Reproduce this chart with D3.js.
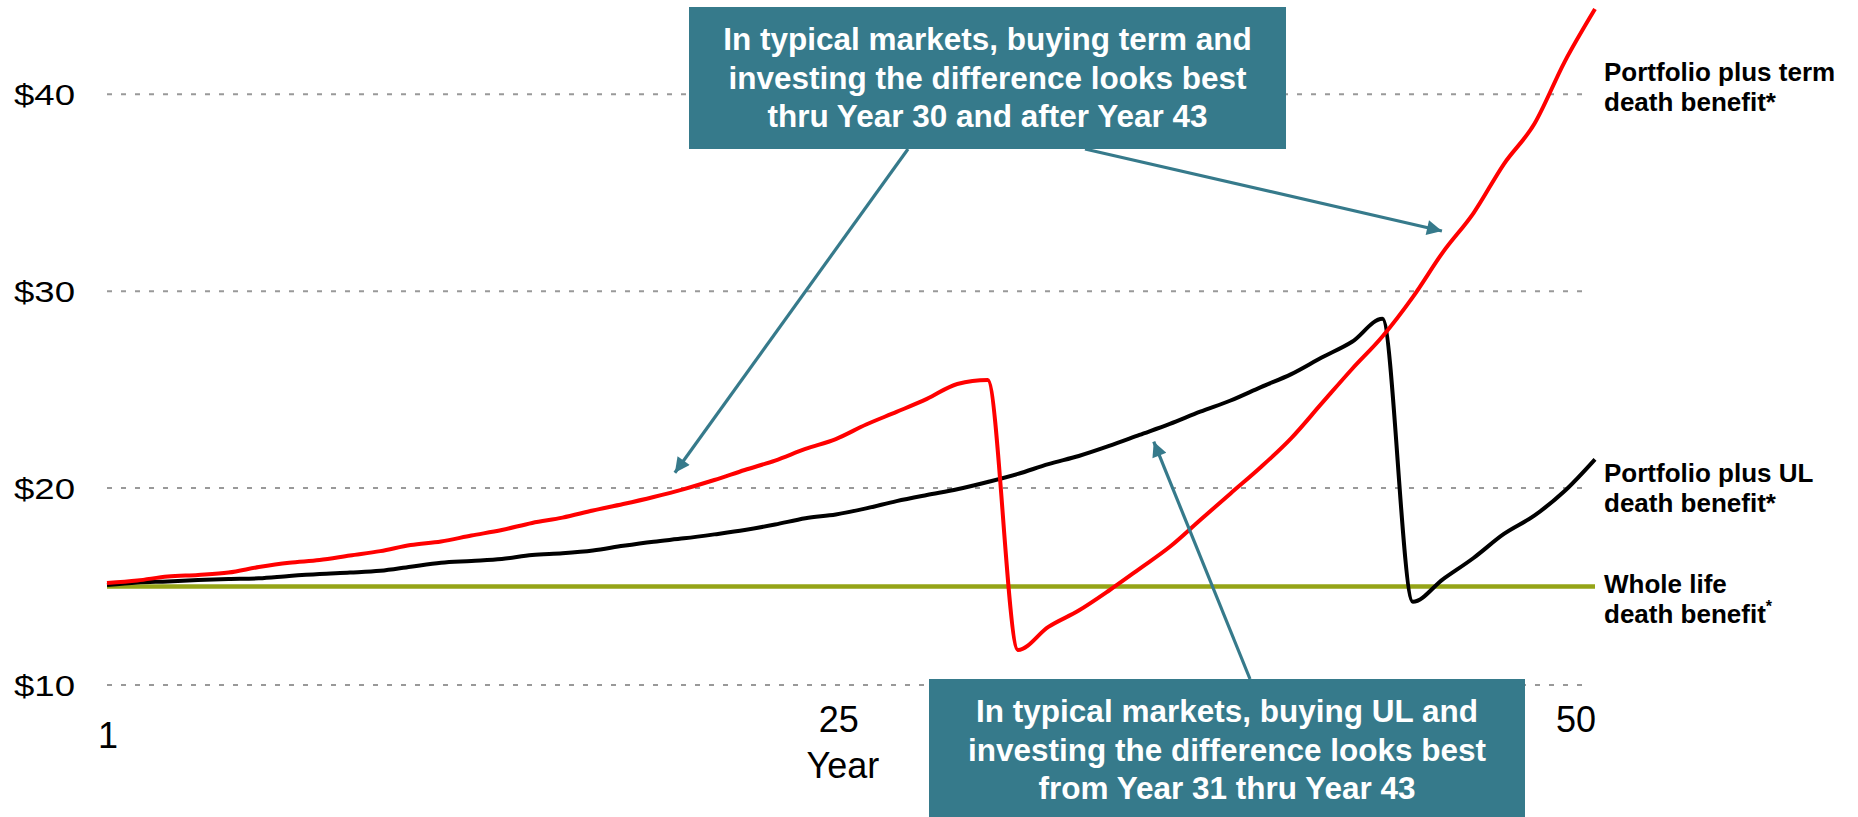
<!DOCTYPE html>
<html>
<head>
<meta charset="utf-8">
<script src="https://cdn.jsdelivr.net/npm/d3@7"></script>
<style>
  html, body { margin: 0; padding: 0; background: #ffffff; }
  svg { display: block; }
</style>
</head>
<body>
<svg id="chart" width="1858" height="817"></svg>
<script>
// ---------------- data ----------------
const years = [1,2,3,4,5,6,7,8,9,10,11,12,13,14,15,16,17,18,19,20,21,22,23,24,25,
               26,27,28,29,30,31,32,33,34,35,36,37,38,39,40,41,42,43,44,45,46,47,48,49,50];

// Portfolio plus term death benefit
const termValues = [15.18,15.31,15.51,15.59,15.71,15.99,16.21,16.35,16.58,16.80,
                    17.11,17.29,17.59,17.87,18.23,18.50,18.86,19.19,19.55,19.95,
                    20.41,20.92,21.40,21.99,22.49,23.23,23.87,24.53,25.29,25.49,
                    11.78,12.95,13.78,14.80,15.90,17.02,18.38,19.73,21.07,22.54,
                    24.30,26.05,27.70,29.70,32.00,33.97,36.46,38.49,41.65,44.33];

// Portfolio plus UL death benefit
const ulValues = [15.08,15.21,15.26,15.33,15.38,15.42,15.54,15.64,15.71,15.80,
                  16.01,16.21,16.30,16.40,16.60,16.69,16.83,17.07,17.28,17.45,
                  17.65,17.87,18.15,18.47,18.66,18.97,19.34,19.65,19.94,20.31,
                  20.72,21.22,21.63,22.14,22.70,23.26,23.88,24.45,25.13,25.79,
                  26.63,27.43,28.60,14.23,15.38,16.45,17.67,18.60,19.85,21.46];

// Whole life death benefit
const wholeLifeValues = [15,15,15,15,15,15,15,15,15,15,15,15,15,15,15,15,15,15,15,15,
                         15,15,15,15,15,15,15,15,15,15,15,15,15,15,15,15,15,15,15,15,
                         15,15,15,15,15,15,15,15,15,15];

const yTickValues = [10, 20, 30, 40];
const xTickValues = [1, 25, 50];
const xAxisTitle = "Year";

const seriesLabels = [
  { lines: ["Portfolio plus term", "death benefit*"], supStar: false },
  { lines: ["Portfolio plus UL", "death benefit*"], supStar: false },
  { lines: ["Whole life", "death benefit"], supStar: true }
];

const callout1 = ["In typical markets, buying term and",
                  "investing the difference looks best",
                  "thru Year 30 and after Year 43"];
const callout2 = ["In typical markets, buying UL and",
                  "investing the difference looks best",
                  "from Year 31 thru Year 43"];

// ---------------- layout ----------------
const FONT = "'Liberation Sans', Arial, Helvetica, sans-serif";
const TEAL = "#367A8B";
const svg = d3.select("#chart");

const x = d3.scaleLinear().domain([1, 50]).range([107, 1595]);
const y = d3.scaleLinear().domain([10, 40]).range([685, 94.3]);

// gridlines
svg.append("g").selectAll("line")
  .data(yTickValues)
  .join("line")
  .attr("x1", 107).attr("x2", 1587)
  .attr("y1", d => y(d)).attr("y2", d => y(d))
  .attr("stroke", "#999999")
  .attr("stroke-width", 2)
  .attr("stroke-dasharray", "5,9");

// y labels (slightly wide glyphs as in reference)
svg.append("g").selectAll("text")
  .data(yTickValues)
  .join("text")
  .attr("transform", d => `translate(75,${y(d) + 11}) scale(1.22,1)`)
  .attr("text-anchor", "end")
  .attr("font-family", FONT)
  .attr("font-size", 30)
  .attr("fill", "#000")
  .text(d => "$" + d);

// x labels
svg.append("g").selectAll("text")
  .data(xTickValues)
  .join("text")
  .attr("x", (d, i) => i === xTickValues.length - 1 ? x(d) + 1 : x(d) + (i === 0 ? 1 : 3))
  .attr("y", (d, i) => i === 0 ? 748 : 732)
  .attr("text-anchor", (d, i) => i === xTickValues.length - 1 ? "end" : "middle")
  .attr("font-family", FONT)
  .attr("font-size", 36)
  .attr("fill", "#000")
  .text(d => d);

svg.append("text")
  .attr("x", x(25) + 7)
  .attr("y", 778)
  .attr("text-anchor", "middle")
  .attr("font-family", FONT)
  .attr("font-size", 36)
  .attr("fill", "#000")
  .text(xAxisTitle);

// lines (smoothed like the original spreadsheet chart)
const lineGen = d3.line()
  .x((d, i) => x(years[i]))
  .y(d => y(d))
  .curve(d3.curveMonotoneX);

svg.append("path")
  .datum(wholeLifeValues)
  .attr("d", d3.line().x((d, i) => x(years[i])).y(d => y(d)))
  .attr("fill", "none")
  .attr("stroke", "#95A417")
  .attr("stroke-width", 4.5);

svg.append("path")
  .datum(ulValues)
  .attr("d", lineGen)
  .attr("fill", "none")
  .attr("stroke", "#000000")
  .attr("stroke-width", 4)
  .attr("stroke-linejoin", "round");

svg.append("path")
  .datum(termValues)
  .attr("d", lineGen)
  .attr("fill", "none")
  .attr("stroke", "#FF0000")
  .attr("stroke-width", 4)
  .attr("stroke-linejoin", "round");

// series labels on right
const labelBaselines = [81, 482, 593];
seriesLabels.forEach((lab, k) => {
  const t = svg.append("text")
    .attr("font-family", FONT)
    .attr("font-size", 26)
    .attr("font-weight", "bold")
    .attr("fill", "#000");
  lab.lines.forEach((ln, j) => {
    t.append("tspan")
      .attr("x", 1604)
      .attr("y", labelBaselines[k] + j * 29.5)
      .text(ln);
  });
  if (lab.supStar) {
    t.append("tspan")
      .attr("font-size", 16)
      .attr("dy", -11)
      .text("*");
  }
});

// arrows
const defs = svg.append("defs");
defs.append("marker")
  .attr("id", "ah")
  .attr("viewBox", "0 0 10 10")
  .attr("refX", 10).attr("refY", 5)
  .attr("markerUnits", "userSpaceOnUse")
  .attr("markerWidth", 17).attr("markerHeight", 15)
  .attr("orient", "auto")
  .append("path")
  .attr("d", "M0,0 L10,5 L0,10 Z")
  .attr("fill", TEAL);

const arrows = [
  { from: [908, 149], toYear: 19.7, toVal: 20.78 },
  { from: [1085, 149], toYear: 44.96, toVal: 33.06 },
  { from: [1250, 679], toYear: 35.47, toVal: 22.36 }
];
arrows.forEach(a => {
  const tx = x(a.toYear), ty = y(a.toVal);
  svg.append("line")
    .attr("x1", a.from[0]).attr("y1", a.from[1])
    .attr("x2", tx).attr("y2", ty)
    .attr("stroke", TEAL)
    .attr("stroke-width", 3.2)
    .attr("marker-end", "url(#ah)");
});

// callout boxes
function callout(lines, x0, y0, w, h, baseline0) {
  svg.append("rect")
    .attr("x", x0).attr("y", y0)
    .attr("width", w).attr("height", h)
    .attr("fill", TEAL);
  const t = svg.append("text")
    .attr("font-family", FONT)
    .attr("font-size", 31.5)
    .attr("font-weight", "bold")
    .attr("fill", "#ffffff")
    .attr("text-anchor", "middle");
  lines.forEach((ln, j) => {
    t.append("tspan")
      .attr("x", x0 + w / 2)
      .attr("y", baseline0 + j * 38.5)
      .text(ln);
  });
}
callout(callout1, 689, 7, 597, 142, 50);
callout(callout2, 929, 679, 596, 150, 722);
</script>
</body>
</html>
